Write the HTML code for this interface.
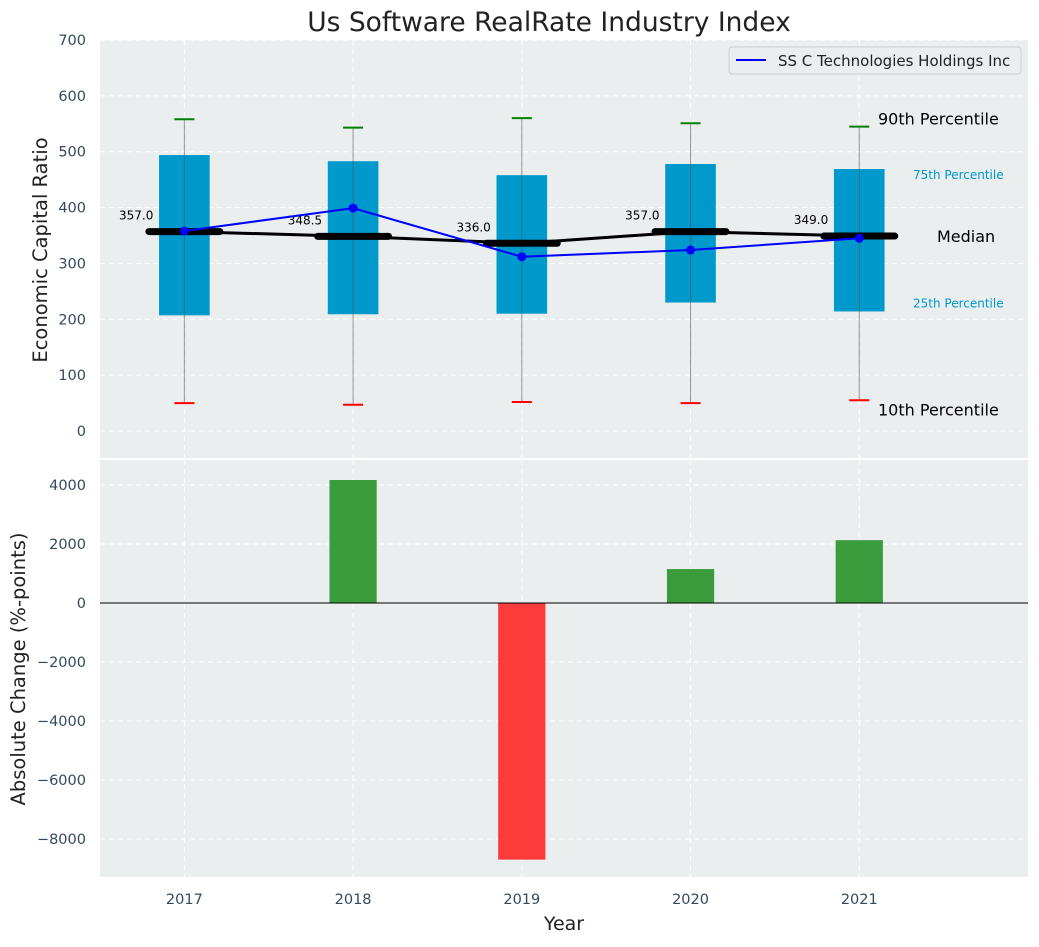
<!DOCTYPE html>
<html><head><meta charset="utf-8"><style>
body{margin:0;background:#fff;font-family:"Liberation Sans","DejaVu Sans",sans-serif;}
svg text{font-family:"DejaVu Sans","Liberation Sans",sans-serif;}
</style></head><body>
<svg id="c" width="1039" height="942" xmlns="http://www.w3.org/2000/svg"></svg>
<script>
const years=[2017,2018,2019,2020,2021];
const p10=[50,47,52,50,55];
const p25=[207,209,210,230,214];
const p50=[357.0,348.5,336.0,357.0,349.0];
const p75=[494,483,458,478,469];
const p90=[558,543,560,551,545];
const company=[358,399,312,324,345];
const changes=[0,4170,-8700,1150,2130];
const topTicks=[0,100,200,300,400,500,600,700];
const botTicks=[4000,2000,0,-2000,-4000,-6000,-8000];
const NS='http://www.w3.org/2000/svg';
const svg=document.getElementById('c');
function el(t,a,p){const e=document.createElementNS(NS,t);for(const k in a)e.setAttribute(k,a[k]);(p||svg).appendChild(e);return e;}
const X0=100,X1=1028;
const x=v=>X0+(v-2016.5)/(5.5)*(X1-X0);
const yT=v=>431-v*0.5586;
const yB=v=>603-v*(118/4000);
let t=el('text',{x:549,y:31,'text-anchor':'middle','font-size':26.5,fill:'#222'});t.textContent='Us Software RealRate Industry Index';

let r=el('rect',{x:X0,y:40,width:X1-X0,height:418,fill:'#eaeeef'});

let r2=el('rect',{x:X0,y:460,width:X1-X0,height:417,fill:'#eaeeef'});

years.forEach(yr=>{
  el('line',{x1:x(yr),x2:x(yr),y1:40,y2:458,stroke:'#fff','stroke-dasharray':'5,4','stroke-width':1});
  el('line',{x1:x(yr),x2:x(yr),y1:460,y2:877,stroke:'#fff','stroke-dasharray':'5,4','stroke-width':1});
});
topTicks.forEach(v=>{
  el('line',{x1:X0,x2:X1,y1:yT(v),y2:yT(v),stroke:'#fff','stroke-dasharray':'5,4'});
  let tt=el('text',{x:86,y:yT(v)+5,'text-anchor':'end','font-size':14.5,fill:'#34495e'});tt.textContent=v;
  
});
botTicks.forEach(v=>{
  el('line',{x1:X0,x2:X1,y1:yB(v),y2:yB(v),stroke:'#fff','stroke-dasharray':'5,4'});
  let tt=el('text',{x:86,y:yB(v)+5,'text-anchor':'end','font-size':14.5,fill:'#34495e'});tt.textContent=String(v).replace('-','\u2212');
  
});
const bw=0.3*(X1-X0)/5.5, mw=0.42*(X1-X0)/5.5;
years.forEach((yr,i)=>{
  const cx=x(yr);
  let b=el('rect',{x:cx-bw/2,y:yT(p75[i]),width:bw,height:yT(p25[i])-yT(p75[i]),fill:'#0099cc'});
  
  el('line',{x1:cx,x2:cx,y1:yT(p90[i]),y2:yT(p10[i]),stroke:'#555','stroke-opacity':0.6,'stroke-width':1});
  let g=el('line',{x1:cx-10,x2:cx+10,y1:yT(p90[i]),y2:yT(p90[i]),stroke:'green','stroke-width':2});
  
  let rr=el('line',{x1:cx-10,x2:cx+10,y1:yT(p10[i]),y2:yT(p10[i]),stroke:'red','stroke-width':2});
  
});
let mp=el('polyline',{points:years.map((yr,i)=>x(yr)+','+yT(p50[i])).join(' '),fill:'none',stroke:'#000','stroke-width':3});

years.forEach((yr,i)=>{
  let m=el('line',{x1:x(yr)-mw/2,x2:x(yr)+mw/2,y1:yT(p50[i]),y2:yT(p50[i]),stroke:'#000','stroke-width':7,'stroke-linecap':'round'});
  
  let l=el('text',{x:x(yr)-31,y:yT(p50[i])-12,'text-anchor':'end','font-size':12,fill:'#000'});l.textContent=p50[i].toFixed(1);
  
});
let cp=el('polyline',{points:years.map((yr,i)=>x(yr)+','+yT(company[i])).join(' '),fill:'none',stroke:'blue','stroke-width':2});

years.forEach((yr,i)=>{let c=el('circle',{cx:x(yr),cy:yT(company[i]),r:4.5,fill:'blue'});
  });
[['90th Percentile',878,yT(p90[4])-2,16,'#000'],['75th Percentile',913,yT(p75[4])+10,12,'#0099cc'],['Median',937,yT(p50[4])+6,16,'#000'],['25th Percentile',913,yT(p25[4])-4,12,'#0099cc'],['10th Percentile',878,yT(p10[4])+15,16,'#000']].forEach(a=>{
  let tx=el('text',{x:a[1],y:a[2],'font-size':a[3],fill:a[4]});tx.textContent=a[0];
  
});
let lg=el('g',{});
el('rect',{x:729,y:47,width:292,height:27,fill:'#eaeeef',stroke:'#ccc',rx:3},lg);
el('line',{x1:736,x2:766,y1:60,y2:60,stroke:'blue','stroke-width':2},lg);
let lt=el('text',{x:778,y:66,'font-size':15,fill:'#222'},lg);lt.textContent='SS C Technologies Holdings Inc';
const brw=0.28*(X1-X0)/5.5;
years.forEach((yr,i)=>{
  if(changes[i]===0)return;
  const y0=yB(Math.max(0,changes[i])),y1=yB(Math.min(0,changes[i]));
  let b=el('rect',{x:x(yr)-brw/2,y:y0,width:brw,height:y1-y0,fill:changes[i]>=0?'#3a9c3c':'#fc3b3b'});
  
});
el('line',{x1:X0,x2:X1,y1:yB(0),y2:yB(0),stroke:'#000','stroke-width':1});
years.forEach(yr=>{let tt=el('text',{x:x(yr),y:904,'text-anchor':'middle','font-size':14.5,fill:'#34495e'});tt.textContent=yr;
  });
let xl=el('text',{x:564,y:930,'text-anchor':'middle','font-size':19,fill:'#222'});xl.textContent='Year';

let y1l=el('text',{x:47,y:250,'text-anchor':'middle','font-size':19.5,fill:'#222',transform:'rotate(-90 47 250)'});y1l.textContent='Economic Capital Ratio';

let y2l=el('text',{x:25,y:669,'text-anchor':'middle','font-size':19.5,fill:'#222',transform:'rotate(-90 25 669)'});y2l.textContent='Absolute Change (%-points)';

</script>
</body></html>
